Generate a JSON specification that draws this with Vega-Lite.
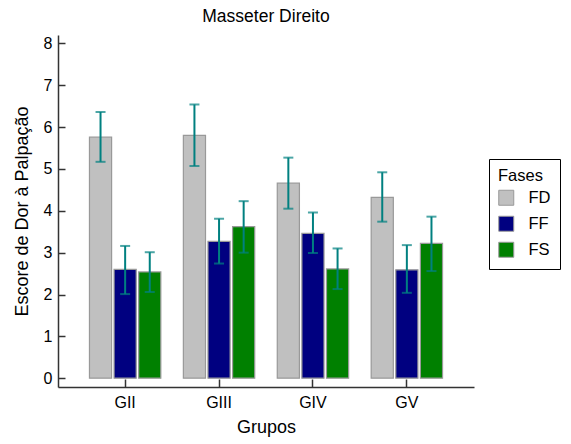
{
  "$schema": "https://vega.github.io/schema/vega-lite/v6.json",
  "width": 416,
  "height": 352,
  "autosize": {"type": "none"},
  "padding": {"left": 58, "top": 35, "right": 97, "bottom": 57},
  "background": "white",
  "title": {"text": "Masseter Direito", "fontSize": 17.5, "fontWeight": "normal", "font": "Liberation Sans", "color": "#000", "offset": 10, "anchor": "middle"},
  "config": {
    "view": {"stroke": null},
    "font": "Liberation Sans",
    "axis": {"grid": false, "domainColor": "#333", "domainWidth": 1.5, "tickColor": "#333", "tickWidth": 1.5, "labelColor": "#000", "titleColor": "#000", "labelFont": "Liberation Sans", "titleFont": "Liberation Sans", "labelFontSize": 16, "titleFontSize": 18, "titleFontWeight": "normal"},
    "legend": {"strokeColor": "#000", "strokeWidth": 1, "padding": 9, "titleFontSize": 16.5, "titleFontWeight": "normal", "labelFontSize": 16.5, "titleColor": "#000", "labelColor": "#000", "symbolType": "square", "symbolSize": 225, "symbolStrokeColor": "#999", "symbolStrokeWidth": 1, "rowPadding": 6, "titlePadding": 5, "labelOffset": 14}
  },
  "data": {"values": [
    {"grupo": "GII", "fase": "FD", "valor": 5.76, "lo": 5.17, "hi": 6.36},
    {"grupo": "GII", "fase": "FF", "valor": 2.60, "lo": 2.01, "hi": 3.16},
    {"grupo": "GII", "fase": "FS", "valor": 2.54, "lo": 2.06, "hi": 3.01},
    {"grupo": "GIII", "fase": "FD", "valor": 5.80, "lo": 5.07, "hi": 6.54},
    {"grupo": "GIII", "fase": "FF", "valor": 3.27, "lo": 2.74, "hi": 3.81},
    {"grupo": "GIII", "fase": "FS", "valor": 3.62, "lo": 3.00, "hi": 4.23},
    {"grupo": "GIV", "fase": "FD", "valor": 4.66, "lo": 4.05, "hi": 5.27},
    {"grupo": "GIV", "fase": "FF", "valor": 3.46, "lo": 2.99, "hi": 3.96},
    {"grupo": "GIV", "fase": "FS", "valor": 2.61, "lo": 2.13, "hi": 3.10},
    {"grupo": "GV", "fase": "FD", "valor": 4.32, "lo": 3.74, "hi": 4.92},
    {"grupo": "GV", "fase": "FF", "valor": 2.59, "lo": 2.04, "hi": 3.18},
    {"grupo": "GV", "fase": "FS", "valor": 3.22, "lo": 2.56, "hi": 3.86}
  ]},
  "encoding": {
    "x": {"field": "grupo", "type": "nominal", "sort": ["GII", "GIII", "GIV", "GV"],
      "scale": {"paddingInner": 0.24, "paddingOuter": 0.335},
      "axis": {"title": "Grupos", "labelAngle": 0, "tickSize": -8, "labelPadding": 15, "titlePadding": 8}},
    "xOffset": {"field": "fase", "type": "nominal", "sort": ["FD", "FF", "FS"], "scale": {"paddingInner": 0.1, "paddingOuter": 0}}
  },
  "layer": [
    {
      "mark": {"type": "bar", "stroke": "#999", "strokeWidth": 1.2},
      "encoding": {
        "y": {"field": "valor", "type": "quantitative",
          "scale": {"domain": [-0.21, 8.2], "nice": false, "zero": false},
          "axis": {"title": "Escore de Dor à Palpação", "values": [0, 1, 2, 3, 4, 5, 6, 7, 8], "tickSize": -7, "labelPadding": 13, "titlePadding": 12}},
        "y2": {"datum": 0},
        "color": {"field": "fase", "type": "nominal", "sort": ["FD", "FF", "FS"],
          "scale": {"domain": ["FD", "FF", "FS"], "range": ["#c0c0c0", "#000080", "#008000"]},
          "legend": {"title": "Fases", "orient": "none", "legendX": 431, "legendY": 124, "labelExpr": "datum.label + '   '"}}
      }
    },
    {
      "mark": {"type": "rule", "color": "#008080", "strokeWidth": 2},
      "encoding": {"y": {"field": "lo", "type": "quantitative"}, "y2": {"field": "hi"}}
    },
    {
      "mark": {"type": "tick", "color": "#008080", "thickness": 2, "size": 10},
      "encoding": {"y": {"field": "lo", "type": "quantitative"}}
    },
    {
      "mark": {"type": "tick", "color": "#008080", "thickness": 2, "size": 10},
      "encoding": {"y": {"field": "hi", "type": "quantitative"}}
    }
  ]
}
